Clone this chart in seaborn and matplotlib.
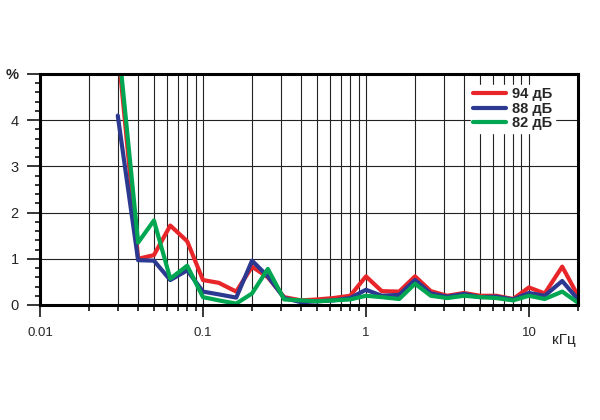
import numpy as np
import pandas as pd
import matplotlib
matplotlib.use("Agg")
import matplotlib.pyplot as plt
from matplotlib.ticker import FixedLocator, NullFormatter, MultipleLocator
import seaborn as sns

freqs = [0.03, 0.04, 0.05, 0.063, 0.08, 0.1, 0.125, 0.16, 0.2, 0.25, 0.315, 0.4, 0.5,
         0.63, 0.8, 1.0, 1.25, 1.6, 2.0, 2.5, 3.15, 4.0, 5.0, 6.3, 8.0, 10.0, 12.5, 16.0, 20.0]
thd_94 = [5.6, 1.00, 1.08, 1.72, 1.38, 0.54, 0.48, 0.29, 0.83, 0.60, 0.17, 0.10, 0.12,
          0.15, 0.20, 0.62, 0.30, 0.29, 0.62, 0.30, 0.20, 0.26, 0.20, 0.20, 0.13, 0.38, 0.25, 0.83, 0.20]
thd_88 = [4.1, 0.97, 0.96, 0.54, 0.75, 0.29, 0.23, 0.16, 0.96, 0.62, 0.15, 0.06, 0.08,
          0.10, 0.15, 0.33, 0.20, 0.22, 0.54, 0.25, 0.18, 0.24, 0.17, 0.18, 0.12, 0.26, 0.20, 0.52, 0.12]
thd_82 = [5.8, 1.35, 1.83, 0.57, 0.85, 0.17, 0.10, 0.03, 0.25, 0.78, 0.12, 0.10, 0.08,
          0.10, 0.12, 0.20, 0.17, 0.13, 0.46, 0.20, 0.15, 0.20, 0.17, 0.15, 0.10, 0.20, 0.13, 0.29, 0.05]
levels = ["94 дБ", "88 дБ", "82 дБ"]
colors = ["#e8262a", "#2b3990", "#00a651"]
y_labels = ["0", "1", "2", "3", "4", "%"]
x_labels = ["0.01", "0.1", "1", "10"]

df = pd.concat([
    pd.DataFrame({"f": freqs, "v": vals, "level": lev})
    for vals, lev in zip([thd_94, thd_88, thd_82], levels)
])

sns.set_style("white")
plt.rcParams["font.family"] = ["Liberation Sans", "DejaVu Sans"]

fig = plt.figure(figsize=(6, 4.2), dpi=100)
ax = fig.add_axes([40/600, 1-305/420, 538/600, 231/420])

sns.lineplot(data=df, x="f", y="v", hue="level", hue_order=levels,
             palette=dict(zip(levels, colors)), linewidth=3, ax=ax, legend=True)

ax.set_xscale("log")
ax.set_xlim(0.01, 20)
ax.set_ylim(0, 5)

major = [0.01, 0.1, 1, 10]
minor = [m * d for d in [0.01, 0.1, 1, 10] for m in range(2, 10) if m * d <= 20.001]
ax.xaxis.set_major_locator(FixedLocator(major))
ax.xaxis.set_minor_locator(FixedLocator(minor))
ax.set_xticklabels(x_labels)
ax.xaxis.set_minor_formatter(NullFormatter())
ax.yaxis.set_major_locator(FixedLocator([0, 1, 2, 3, 4, 5]))
ax.set_yticklabels(y_labels)
ax.yaxis.set_minor_locator(MultipleLocator(0.2))

ax.tick_params(axis="x", which="major", direction="out", length=8.6, width=1.1, pad=7,
               labelsize=9.5, color="black", bottom=True)
ax.tick_params(axis="x", which="minor", direction="out", length=4.3, width=1.1, color="black", bottom=True)
ax.tick_params(axis="y", which="major", direction="out", length=9.4, width=1.1, pad=6,
               labelsize=10.5, color="black", left=True)
ax.tick_params(axis="y", which="minor", direction="out", length=3.6, width=1.1, color="black", left=True)
for lab in ax.get_yticklabels():
    if lab.get_text() == "%":
        lab.set_fontweight("bold")

ax.grid(True, which="both", axis="x", color="#222222", linewidth=0.8)
ax.grid(True, which="major", axis="y", color="#222222", linewidth=0.8)
ax.set_axisbelow(True)

for s in ax.spines.values():
    s.set_visible(True)
    s.set_color("black")
    s.set_linewidth(2.2)

ax.set_xlabel("")
ax.set_ylabel("")
ax.text(16.3, -0.75, "кГц", ha="center", va="center", fontsize=11, transform=ax.transData)

leg = ax.legend(loc="upper right", bbox_to_anchor=(0.97, 0.985), frameon=True,
                facecolor="white", edgecolor="white", framealpha=1,
                handlelength=2.2, handletextpad=0.45, labelspacing=0.05,
                borderpad=0.15, prop={"weight": "bold", "size": 10.5})
for line in leg.get_lines():
    line.set_linewidth(3)

fig.savefig("out.png", dpi=100, facecolor="white")
